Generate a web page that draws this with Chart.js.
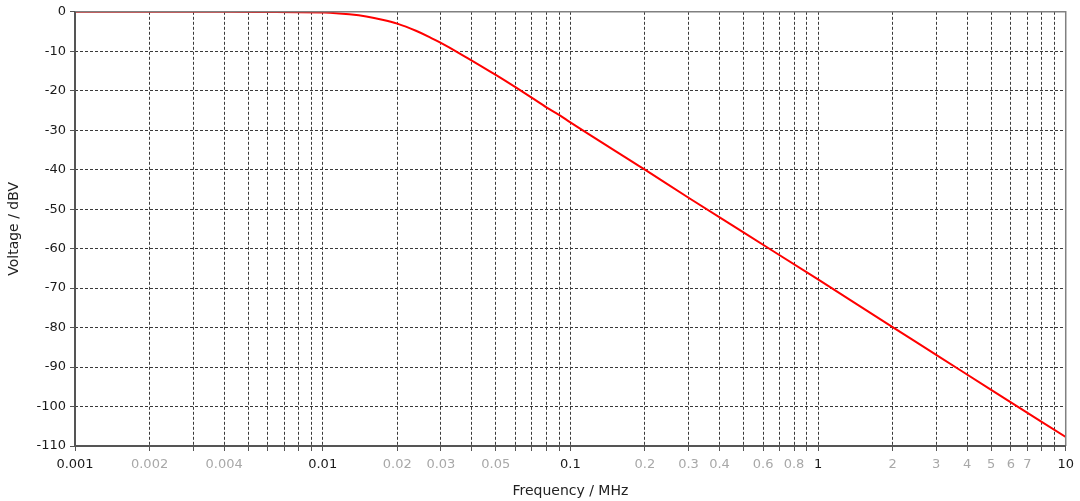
<!DOCTYPE html>
<html>
<head>
<meta charset="utf-8">
<script src="https://cdn.jsdelivr.net/npm/chart.js@4"></script>
<style>
  body { margin: 0; background: #fff; }
  #wrap { width: 1080px; height: 501px; }
</style>
</head>
<body>
<div id="wrap"><canvas id="freqChart" width="1080" height="501"></canvas></div>
<script>
// response (frequency in MHz, level in dBV)
const freqMHz = [0.001, 0.002, 0.004, 0.006, 0.008, 0.01, 0.0107, 0.0128, 0.015, 0.0174,
  0.02, 0.0238, 0.027, 0.03, 0.0355, 0.04, 0.05, 0.06, 0.07, 0.08, 0.09, 0.1,
  0.2, 0.3, 0.5, 1, 2, 3, 5, 10];
const voltageDbv = [0, 0, 0, -0.05, -0.1, -0.2, -0.25, -0.65, -1.2, -2.0,
  -3.0, -4.8, -6.4, -7.9, -10.45, -12.35, -16.0, -19.1, -21.8, -24.2, -26.1, -28.0,
  -40, -47.1, -55.9, -67.8, -79.9, -86.9, -95.8, -107.7];

// x axis labels: decades in black, some in-between values in grey
const majorLabels = [0.001, 0.01, 0.1, 1, 10];
const minorLabels = [0.002, 0.004, 0.02, 0.03, 0.05, 0.2, 0.3, 0.4, 0.6, 0.8, 2, 3, 4, 5, 6, 7];
const yMin = -110, yMax = 0, yStep = 10;

const sameVal = (a, b) => Math.abs(a - b) < b * 1e-6;
const isMajor = v => majorLabels.some(m => sameVal(v, m));
const isMinor = v => minorLabels.some(m => sameVal(v, m));

// grid / tick positions 1..9 x 10^k
const gridVals = [];
for (let k = -3; k <= 0; k++) {
  for (let m = 1; m <= 9; m++) gridVals.push(Number((m * Math.pow(10, k)).toPrecision(3)));
}
gridVals.push(10);

// solid axes left/bottom, lighter frame top/right
const frame = {
  id: "frame",
  afterDatasetsDraw(chart) {
    const { ctx, chartArea: a } = chart;
    ctx.save();
    ctx.setLineDash([]);
    ctx.strokeStyle = "#808080";
    ctx.lineWidth = 1.5;
    ctx.beginPath();
    ctx.moveTo(a.left, a.top);
    ctx.lineTo(a.right, a.top);
    ctx.lineTo(a.right, a.bottom);
    ctx.stroke();
    ctx.strokeStyle = "#555";
    ctx.lineWidth = 2;
    ctx.beginPath();
    ctx.moveTo(a.left, a.top);
    ctx.lineTo(a.left, a.bottom);
    ctx.lineTo(a.right, a.bottom);
    ctx.stroke();
    ctx.restore();
  }
};

const gridOpts = {
  color: "#3a3a3a",
  lineWidth: 1,
  tickLength: 5,
  tickColor: "#555",
  tickBorderDash: []
};

const ctx = document.getElementById("freqChart").getContext("2d");
new Chart(ctx, {
  type: "line",
  data: {
    datasets: [{
      data: freqMHz.map((f, i) => ({ x: f, y: voltageDbv[i] })),
      borderColor: "#ff0000",
      borderWidth: 2,
      pointRadius: 0,
      cubicInterpolationMode: "monotone",
      fill: false
    }]
  },
  options: {
    responsive: false,
    animation: false,
    devicePixelRatio: 1,
    layout: { padding: { top: 8, right: 12, left: 0, bottom: 0 } },
    plugins: { legend: { display: false }, tooltip: { enabled: false } },
    scales: {
      x: {
        type: "logarithmic",
        min: 0.001,
        max: 10,
        afterBuildTicks: s => { s.ticks = gridVals.map(v => ({ value: v })); },
        afterFit: s => { s.height = 55; },
        ticks: {
          autoSkip: false,
          maxRotation: 0,
          padding: 6,
          font: { family: "DejaVu Sans", size: 13 },
          color: c => (isMajor(c.tick.value) ? "#1a1a1a" : "#a8a8a8"),
          callback: v => (isMajor(v) || isMinor(v) ? String(v) : "")
        },
        grid: gridOpts,
        border: { display: false, dash: [3, 2] },
        title: {
          display: true,
          text: "Frequency / MHz",
          color: "#222",
          font: { family: "DejaVu Sans", size: 14 },
          padding: { top: 0, bottom: 1 }
        }
      },
      y: {
        min: yMin,
        max: yMax,
        afterFit: s => { s.width = 75; },
        ticks: {
          stepSize: yStep,
          padding: 4,
          color: "#1a1a1a",
          font: { family: "DejaVu Sans", size: 13 }
        },
        grid: gridOpts,
        border: { display: false, dash: [3, 2] },
        title: {
          display: true,
          text: "Voltage / dBV",
          color: "#222",
          font: { family: "DejaVu Sans", size: 14 },
          padding: { top: 6, bottom: 0 }
        }
      }
    }
  },
  plugins: [frame]
});
</script>
</body>
</html>
